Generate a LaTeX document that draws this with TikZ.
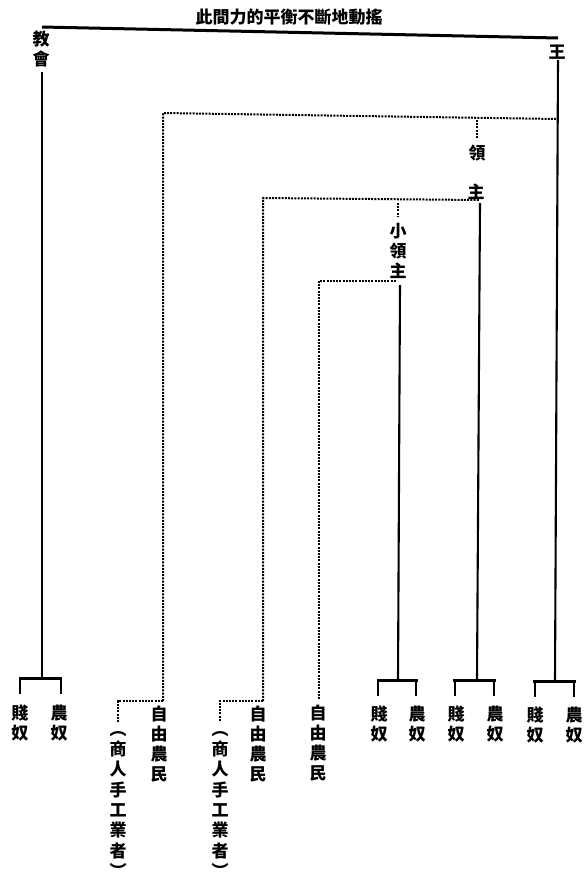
\documentclass[tikz,border=0pt]{standalone}
\usepackage{fontspec}
\newfontfamily\cjk{Noto Sans CJK TC}
\tikzset{
  solidl/.style={line width=2.1pt},
  thickl/.style={line width=3pt},
  dashl/.style={line width=2pt, dash pattern=on 2pt off 1.2pt},
  vtext/.style={font=\cjk\bfseries\fontsize{17}{20}\selectfont, align=center, inner sep=0pt, anchor=north},
  vtextw/.style={font=\cjk\bfseries\fontsize{17}{20.3}\selectfont, align=center, inner sep=0pt, anchor=north},
  htext/.style={font=\cjk\bfseries\fontsize{17}{20}\selectfont, inner sep=0pt},
}
\begin{document}
\begin{tikzpicture}[x=1pt,y=-1pt]
\useasboundingbox (0,0) rectangle (586,879);
% title and top line
\node[htext] (title) at (289,17) {此間力的平衡不斷地動搖};
\coordinate (tl) at (42,27);
\coordinate (tr) at (558,38);
\draw[thickl] (tl) -- (tr);
% church
\node[vtext] (church) at (41,31) {教\\會};
\coordinate (c1) at (42,72);
\coordinate (c2) at (42,678);
\draw[solidl] (c1) -- (c2);
\coordinate (cbl) at (19,678); \coordinate (cbr) at (62,678);
\draw[thickl] (cbl) -- (cbr);
\coordinate (cs1) at (20,678); \coordinate (cs1e) at (20,694);
\coordinate (cs2) at (61,678); \coordinate (cs2e) at (61,694);
\draw[solidl] (cs1) -- (cs1e) (cs2) -- (cs2e);
\node[vtext] (cserfA) at (20,705) {賤\\奴};
\node[vtext] (cserfB) at (59,705) {農\\奴};
% king
\node[htext] (king) at (557,52) {王};
\coordinate (k1) at (558,60);
\coordinate (k2) at (555,681);
\draw[solidl] (k1) -- (k2);
\coordinate (kbl) at (533,681); \coordinate (kbr) at (576,681);
\draw[thickl] (kbl) -- (kbr);
\coordinate (ks1) at (535,681); \coordinate (ks1e) at (535,697);
\coordinate (ks2) at (574,681); \coordinate (ks2e) at (574,697);
\draw[solidl] (ks1) -- (ks1e) (ks2) -- (ks2e);
\node[vtext] (kserfA) at (535,707) {賤\\奴};
\node[vtext] (kserfB) at (574,707) {農\\奴};
% lord (dashed link from king)
\coordinate (l0) at (163,701);
\coordinate (l1) at (163,113);
\coordinate (l2) at (557,119);
\draw[dashl] (l0) -- (l1) -- (l2);
\coordinate (ls1) at (477,120); \coordinate (ls2) at (477,139);
\draw[dashl] (ls1) -- (ls2);
\node[htext] (lordA) at (477,153) {領};
\node[htext] (lordB) at (476,192) {主};
\coordinate (m0) at (263,701);
\coordinate (m1) at (263,198);
\coordinate (m2) at (479,200);
\draw[dashl] (m0) -- (m1) -- (m2);
\coordinate (lv1) at (480,203);
\coordinate (lv2) at (477,680);
\draw[solidl] (lv1) -- (lv2);
\coordinate (lbl) at (453,680); \coordinate (lbr) at (496,680);
\draw[thickl] (lbl) -- (lbr);
\coordinate (lss1) at (455,680); \coordinate (lss1e) at (455,696);
\coordinate (lss2) at (494,680); \coordinate (lss2e) at (494,696);
\draw[solidl] (lss1) -- (lss1e) (lss2) -- (lss2e);
\node[vtext] (lserfA) at (456,706) {賤\\奴};
\node[vtext] (lserfB) at (495,706) {農\\奴};
% small lord
\coordinate (ss1) at (398,203); \coordinate (ss2) at (398,217);
\draw[dashl] (ss1) -- (ss2);
\node[vtext] (slord) at (398,223) {小\\領\\主};
\coordinate (n0) at (319,699);
\coordinate (n1) at (319,281);
\coordinate (n2) at (397,281);
\draw[dashl] (n0) -- (n1) -- (n2);
\coordinate (sv1) at (400,285);
\coordinate (sv2) at (398,680);
\draw[solidl] (sv1) -- (sv2);
\coordinate (sbl) at (377,680); \coordinate (sbr) at (418,680);
\draw[thickl] (sbl) -- (sbr);
\coordinate (sss1) at (378,680); \coordinate (sss1e) at (378,696);
\coordinate (sss2) at (416,680); \coordinate (sss2e) at (416,696);
\draw[solidl] (sss1) -- (sss1e) (sss2) -- (sss2e);
\node[vtext] (sserfA) at (379,706) {賤\\奴};
\node[vtext] (sserfB) at (417,706) {農\\奴};
% free peasants, group 1
\coordinate (g1a) at (118,701); \coordinate (g1b) at (118,722);
\draw[dashl] (l0) -- (g1a) -- (g1b);
\node[vtext] (free1) at (159,706) {自\\由\\農\\民};
\node[vtextw] (merch1) at (118,731) {︵\\商\\人\\手\\工\\業\\者\\︶};
% group 2
\coordinate (g2a) at (220,701); \coordinate (g2b) at (220,722);
\draw[dashl] (m0) -- (g2a) -- (g2b);
\node[vtext] (free2) at (258,706) {自\\由\\農\\民};
\node[vtextw] (merch2) at (220,731) {︵\\商\\人\\手\\工\\業\\者\\︶};
% group 3
\node[vtext] (free3) at (318,705) {自\\由\\農\\民};
\end{tikzpicture}
\end{document}
